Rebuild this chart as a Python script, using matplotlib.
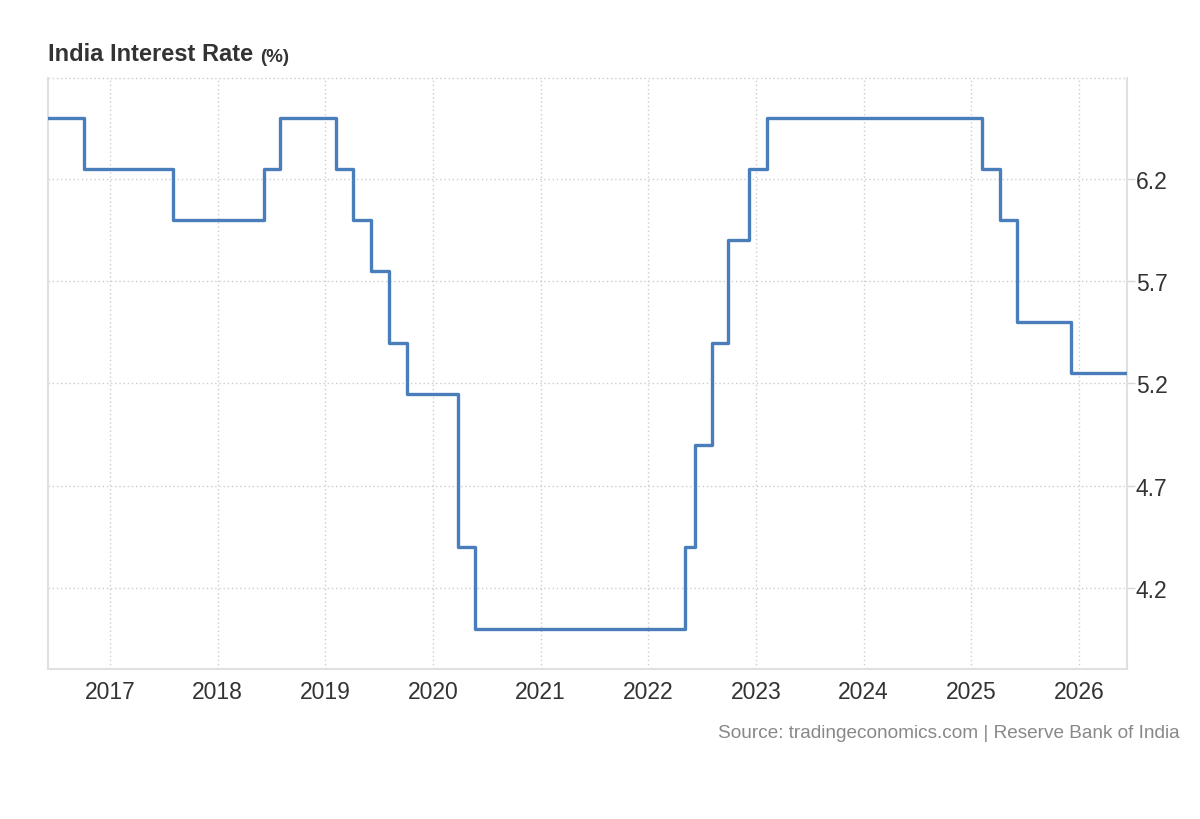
import matplotlib
matplotlib.use("Agg")
import matplotlib.pyplot as plt
import matplotlib.dates as mdates
import numpy as np
from datetime import datetime

plt.rcParams['font.family'] = ['Liberation Sans', 'DejaVu Sans']

dates = ["2016-06-05", "2016-10-04", "2017-08-02", "2018-06-06", "2018-08-01",
         "2019-02-07", "2019-04-04", "2019-06-06", "2019-08-07", "2019-10-04",
         "2020-03-27", "2020-05-22", "2022-05-04", "2022-06-08", "2022-08-05",
         "2022-09-30", "2022-12-07", "2023-02-08", "2025-02-07", "2025-04-09",
         "2025-06-06", "2025-12-05", "2026-06-12"]
rates = [6.50, 6.25, 6.00, 6.25, 6.50,
         6.25, 6.00, 5.75, 5.40, 5.15,
         4.40, 4.00, 4.40, 4.90, 5.40,
         5.90, 6.25, 6.50, 6.25, 6.00,
         5.50, 5.25, 5.25]
y_ticks = [4.2, 4.7, 5.2, 5.7, 6.2]

x = [datetime.strptime(d, "%Y-%m-%d") for d in dates]

fig = plt.figure(figsize=(12, 8.2), dpi=100)
ax = fig.add_axes([0.040, 0.183, 0.899, 0.7207])

ax.plot(x, rates, drawstyle='steps-post', color='#4a7ebb', lw=2.4, zorder=3)

ax.set_xlim(datetime(2016, 6, 5), datetime(2026, 6, 12))
ax.set_ylim(3.804, 6.694)

ax.xaxis.set_major_locator(mdates.YearLocator())
ax.xaxis.set_major_formatter(mdates.DateFormatter('%Y'))
ax.set_yticks(y_ticks)
ax.set_yticklabels([f"{v:.1f}" for v in y_ticks])

ax.yaxis.tick_right()
ax.tick_params(axis='y', length=5.5, width=1, color='#d8d8d8', labelsize=16.5,
               labelcolor='#333333', pad=1)
ax.tick_params(axis='x', length=0, labelsize=16.5, labelcolor='#333333', pad=8)

ax.grid(True, color='#cccccc', linestyle=(0, (1, 2)), lw=1)
ax.spines['top'].set_visible(False)
for s in ['left', 'right', 'bottom']:
    ax.spines[s].set_color('#e0e0e0')
    ax.spines[s].set_linewidth(1.5)
ax.axhline(6.694, color='#cccccc', linestyle=(0, (1, 2)), lw=1, clip_on=False)

t1 = fig.text(0.040, 0.926, "India Interest Rate", fontsize=17, fontweight='bold',
              color='#333333', ha='left', va='baseline')
ax.annotate("(%)", xy=(1, 0), xycoords=t1, xytext=(5, 0), textcoords='offset points',
            fontsize=13.5, fontweight='bold', color='#333333', ha='left', va='bottom')
fig.text(0.983, 0.100, "Source: tradingeconomics.com | Reserve Bank of India",
         fontsize=13.7, color='#888888', ha='right', va='baseline')

fig.savefig("out.png", dpi=100, facecolor='white')
